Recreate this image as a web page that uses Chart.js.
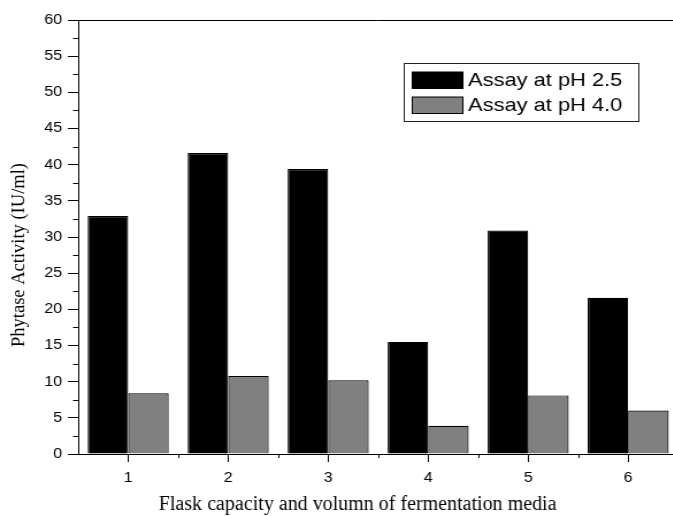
<!DOCTYPE html>
<html>
<head>
<meta charset="utf-8">
<script src="https://cdn.jsdelivr.net/npm/chart.js@4.4.1/dist/chart.umd.min.js"></script>
<style>
  html, body { margin: 0; padding: 0; background: #fff; overflow: hidden; }
  #wrap { width: 673px; height: 516px; overflow: hidden; }
  #chart { display: block; transform: scaleX(1.15); transform-origin: 0 0; }
</style>
</head>
<body>
<div id="wrap"><canvas id="chart" width="600" height="516"></canvas></div>
<script>
// Phytase activity per flask setup, two assay pH values
const categories = ['1', '2', '3', '4', '5', '6'];
const assayPh25 = [32.9, 41.6, 39.4, 15.5, 30.9, 21.6];
const assayPh40 = [8.4, 10.8, 10.2, 3.9, 8.1, 6.0];
const yMin = 0, yMax = 60, yStep = 5;

const xTitle = 'Flask capacity and volumn of fermentation media';
const yTitle = 'Phytase Activity (IU/ml)';

// canvas is widened by CSS; titles are drawn squeezed back by this factor
const STRETCH = 1.15;

const sansFont = "Arial, 'Liberation Sans', sans-serif";
const serifFont = "'Times New Roman', 'Liberation Serif', serif";

// top frame line, minor ticks, boxed legend and axis titles
const framePlugin = {
    id: 'frame',
    afterDraw(chart) {
        const { ctx, chartArea: a, scales: { x, y } } = chart;
        ctx.save();
        ctx.strokeStyle = '#000';
        ctx.lineWidth = 1;

        ctx.beginPath();
        ctx.moveTo(a.left, a.top + 0.5);
        ctx.lineTo(a.right, a.top + 0.5);
        ctx.stroke();

        ctx.beginPath();
        for (let v = yMin + yStep / 2; v < yMax; v += yStep) {
            const py = Math.round(y.getPixelForValue(v)) + 0.5;
            ctx.moveTo(a.left - 4.5, py);
            ctx.lineTo(a.left, py);
        }
        for (let i = 0; i < categories.length - 1; i++) {
            const px = Math.round(x.getPixelForValue(i + 0.5)) + 0.5;
            ctx.moveTo(px, a.bottom);
            ctx.lineTo(px, a.bottom + 4);
        }
        ctx.stroke();

        // legend
        const lx = 351.5, ly = 63.5, lw = 204, lh = 58;
        ctx.fillStyle = '#fff';
        ctx.fillRect(lx, ly, lw, lh);
        ctx.strokeStyle = '#222';
        ctx.strokeRect(lx, ly, lw, lh);
        ctx.font = '19px ' + sansFont;
        ctx.textBaseline = 'middle';
        ctx.textAlign = 'left';
        chart.data.datasets.forEach((ds, i) => {
            const sy = 72 + i * 25;
            ctx.fillStyle = ds.backgroundColor;
            ctx.fillRect(358.5, sy, 44, 16.5);
            ctx.strokeStyle = '#000';
            ctx.strokeRect(358.5, sy, 44, 16.5);
            ctx.fillStyle = '#000';
            ctx.fillText(ds.label, 407, sy + 8.5);
        });

        // axis titles
        ctx.fillStyle = '#000';
        ctx.textAlign = 'center';
        ctx.textBaseline = 'middle';

        ctx.save();
        ctx.font = '20px ' + serifFont;
        ctx.translate(311, 505);
        ctx.scale(1 / STRETCH, 1);
        ctx.fillText(xTitle, 0, 0);
        ctx.restore();

        ctx.save();
        ctx.font = '18.5px ' + serifFont;
        ctx.translate(17, 255);
        ctx.scale(1 / STRETCH, 1);
        ctx.rotate(-Math.PI / 2);
        ctx.fillText(yTitle, 0, 0);
        ctx.restore();

        ctx.restore();
    }
};

new Chart(document.getElementById('chart'), {
    type: 'bar',
    data: {
        labels: categories,
        datasets: [
            {
                label: 'Assay at pH 2.5',
                data: assayPh25,
                backgroundColor: '#000000',
                borderColor: '#000000',
                borderWidth: 1.2
            },
            {
                label: 'Assay at pH 4.0',
                data: assayPh40,
                backgroundColor: '#808080',
                borderColor: '#000000',
                borderWidth: 1.2
            }
        ]
    },
    options: {
        responsive: false,
        animation: false,
        devicePixelRatio: 1,
        datasets: {
            bar: { categoryPercentage: 0.81, barPercentage: 1 }
        },
        layout: { padding: { top: 20, right: 10.3, left: 0, bottom: 0 } },
        plugins: {
            legend: { display: false },
            tooltip: { enabled: false }
        },
        scales: {
            x: {
                grid: { offset: false, drawOnChartArea: false, tickLength: 8, color: '#000' },
                border: { color: '#000', width: 1 },
                ticks: { color: '#000', padding: 8, font: { family: sansFont, size: 14 } },
                afterFit(scale) { scale.height = 62; }
            },
            y: {
                min: yMin,
                max: yMax,
                grid: { drawOnChartArea: false, tickLength: 9, color: '#000' },
                border: { color: '#000', width: 1 },
                ticks: { stepSize: yStep, color: '#000', padding: 5, font: { family: sansFont, size: 14 } },
                afterFit(scale) { scale.width = 68; }
            }
        }
    },
    plugins: [framePlugin]
});
</script>
</body>
</html>
